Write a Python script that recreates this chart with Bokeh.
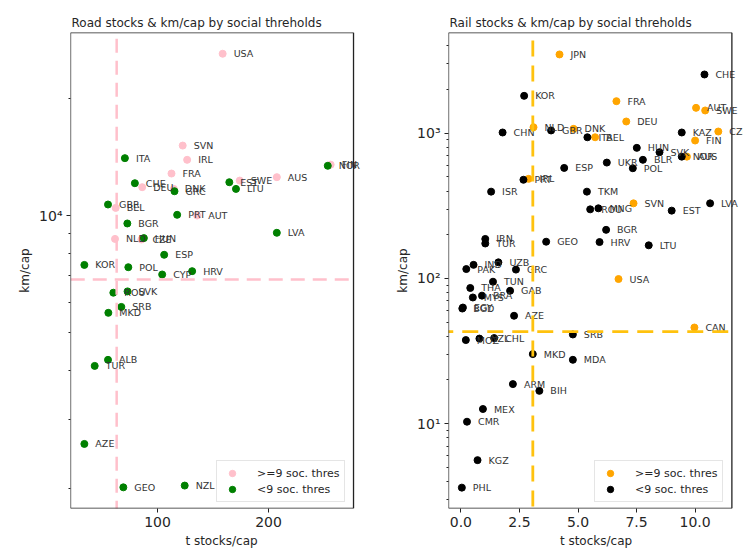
from bokeh.plotting import figure
from bokeh.layouts import row
from bokeh.models import (ColumnDataSource, Label, Range1d, FixedTicker,
                          CustomJSTickFormatter, PrintfTickFormatter, Arrow)
from bokeh.embed import file_html
from bokeh.resources import INLINE

# ---------------- Road data ----------------
road_hi_names = ["USA", "SVN", "IRL", "FRA", "AUS", "SWE", "DEU", "DNK", "BEL", "AUT", "NLD", "CZE", "FIN"]
road_hi_x = [158.7, 122.7, 126.7, 112.6, 207.5, 174.1, 86.2, 114.7, 62.3, 135.7, 61.7, 85.5, 256.0]
road_hi_y = [25980, 15110, 13890, 12810, 12540, 12290, 11820, 11700, 10460, 10000, 8710, 8680, 13500]

road_lo_names = ["ITA", "NOR", "CHE", "EST", "LTU", "GRC", "GBR", "PRT", "BGR", "LVA", "HUN", "ESP",
                 "KOR", "POL", "HRV", "CYP", "ROU", "SVK", "SRB", "MKD", "ALB", "TUR", "AZE", "GEO", "NZL"]
road_lo_x = [70.6, 253.4, 79.6, 164.7, 170.7, 115.3, 55.4, 117.7, 72.8, 207.5, 87.7, 106.0,
             34.1, 73.7, 131.2, 104.2, 60.2, 73.0, 67.4, 55.7, 55.4, 43.4, 34.1, 69.2, 124.5]
road_lo_y = [14030, 13410, 12100, 12170, 11700, 11540, 10670, 10040, 9540, 9030, 8750, 7930,
             7470, 7370, 7200, 7060, 6340, 6390, 5830, 5630, 4266, 4116, 2597, 2010, 2031]

road_x_thr = 63.2
road_y_thr = 6850

# ---------------- Rail data ----------------
rail_hi_names = ["JPN", "FRA", "AUT", "SWE", "DEU", "NLD", "DNK", "CZE", "BEL", "FIN", "AUS", "IRL",
                 "SVN", "USA", "CAN"]
rail_hi_x = [4.21, 6.64, 10.04, 10.43, 7.06, 3.10, 4.81, 10.99, 5.73, 10.0, 9.65, 2.89, 7.37, 6.73, 9.97]
rail_hi_y = [3490, 1663, 1496, 1435, 1205, 1100, 1072, 1028, 938, 891, 690, 485, 329, 99, 45.9]

rail_lo_names = ["CHE", "KOR", "CHN", "GBR", "KAZ", "ITA", "HUN", "SVK", "NOR", "BLR", "UKR", "POL",
                 "ESP", "PRT", "ISR", "TKM", "LVA", "EST", "ROU", "MNG", "BGR", "IRN", "TUR", "GEO",
                 "HRV", "LTU", "PAK", "IND", "UZB", "GRC", "TUN", "THA", "GAB", "MYS", "BRA", "EGY",
                 "BGD", "AZE", "SRB", "MOZ", "NZL", "CHL", "MKD", "MDA", "ARM", "BIH", "MEX", "CMR",
                 "KGZ", "PHL"]
rail_lo_x = [10.40, 2.70, 1.78, 3.85, 9.43, 5.40, 7.51, 8.48, 9.43, 7.77, 6.23, 7.34,
             4.41, 2.67, 1.29, 5.38, 10.64, 9.0, 5.52, 5.87, 6.20, 1.04, 1.04, 3.64,
             5.92, 8.02, 0.23, 0.54, 1.60, 2.35, 1.37, 0.40, 2.10, 0.51, 0.90, 0.085,
             0.06, 2.27, 4.78, 0.21, 0.79, 1.42, 3.07, 4.78, 2.22, 3.35, 0.94, 0.26,
             0.71, 0.04]
rail_lo_y = [2540, 1810, 1012, 1045, 1012, 938, 793, 740, 690, 656, 628, 574,
             577, 478, 396, 396, 329, 293, 299, 304, 216, 187, 174, 179,
             178, 169, 116, 124, 129, 115, 94.9, 85.9, 82.2, 73.9, 76.1, 63,
             62, 55.3, 41.1, 37.6, 38.5, 38.8, 30.1, 27.5, 18.7, 16.8, 12.6, 10.3,
             5.6, 3.62]

rail_x_thr = 3.07
rail_y_thr = 43.0

legend_hi = ">=9 soc. thres"
legend_lo = "<9 soc. thres"

FONT = "DejaVu Sans"
TXT = "#262626"
EDGE = "#222222"

sup_js = """
const s = {'0':'\u2070','1':'\u00b9','2':'\u00b2','3':'\u00b3','4':'\u2074','5':'\u2075','6':'\u2076','7':'\u2077','8':'\u2078','9':'\u2079'};
const e = Math.round(Math.log10(tick));
return '10' + String(e).split('').map(c => s[c]).join('');
"""


def style(p):
    p.grid.visible = False
    p.outline_line_color = None
    p.background_fill_color = "white"
    p.border_fill_color = "white"
    p.title.text_font = FONT
    p.title.text_font_size = "12px"
    p.title.text_font_style = "normal"
    p.title.text_color = TXT
    p.title.align = "left"
    p.title.standoff = 6
    for ax in (p.xaxis[0], p.yaxis[0]):
        ax.axis_line_color = None
        ax.major_tick_line_color = EDGE
        ax.minor_tick_line_color = EDGE
        ax.major_tick_in = 0
        ax.major_tick_out = 4
        ax.minor_tick_in = 0
        ax.minor_tick_out = 2
        ax.major_label_text_font = FONT
        ax.major_label_text_font_size = "14px"
        ax.major_label_text_color = TXT
        ax.axis_label_text_font = FONT
        ax.axis_label_text_font_size = "12px"
        ax.axis_label_text_font_style = "normal"
        ax.axis_label_text_color = TXT
        ax.axis_label_standoff = 4
        ax.major_label_standoff = 4
    p.xaxis[0].minor_tick_out = 0


def draw_box(p, x0, x1, y0, y1):
    # visible axes box (the drawing frame itself is wider so labels can overflow it)
    for xs, xe, ys, ye in [(x0, x1, y0, y0), (x0, x1, y1, y1), (x0, x0, y0, y1), (x1, x1, y0, y1)]:
        p.add_layout(Arrow(end=None, x_start=xs, x_end=xe, y_start=ys, y_end=ye,
                           line_color=EDGE, line_width=1.3))


def add_points(p, names, xs, ys, color, label):
    src = ColumnDataSource(dict(x=xs, y=ys, name=names))
    p.scatter("x", "y", source=src, size=7, color=color, legend_label=label)
    for n, xv, yv in zip(names, xs, ys):
        p.add_layout(Label(x=xv, y=yv, text=n, x_offset=11, text_baseline="middle",
                           text_font=FONT, text_font_size="9.5px", text_color="#333333"))


def style_legend(p, loc):
    lg = p.legend[0]
    lg.location = loc
    lg.padding = 4
    lg.spacing = 0
    lg.label_text_font = FONT
    lg.label_text_font_size = "11px"
    lg.label_text_color = TXT
    lg.label_height = 16
    lg.glyph_height = 16
    lg.glyph_width = 22
    lg.label_standoff = 14
    lg.border_line_color = "#cccccc"
    lg.background_fill_alpha = 0.85


# ---------------- Road figure ----------------
ROAD_X = (21.6, 276.6)
ROAD_Y = (1774, 29450)
p1 = figure(width=372, height=557, y_axis_type="log", output_backend="svg", toolbar_location=None,
            title="Road stocks & km/cap by social threholds",
            x_range=Range1d(ROAD_X[0], 293.7), y_range=Range1d(*ROAD_Y),
            min_border_left=70, min_border_right=0, min_border_top=32, min_border_bottom=49)
p1.title.offset = 1
p1.xaxis.axis_label = "t stocks/cap"
p1.yaxis.axis_label = "km/cap"
p1.xaxis.ticker = FixedTicker(ticks=[100, 200])
p1.yaxis.ticker = FixedTicker(ticks=[10000],
                              minor_ticks=[2000, 3000, 4000, 5000, 6000, 7000, 8000, 9000, 20000])
p1.yaxis.formatter = CustomJSTickFormatter(code=sup_js)
style(p1)

pink = "#FFC0CB"
add_points(p1, road_hi_names, road_hi_x, road_hi_y, pink, legend_hi)
add_points(p1, road_lo_names, road_lo_x, road_lo_y, "green", legend_lo)
p1.add_layout(Arrow(end=None, x_start=road_x_thr, x_end=road_x_thr, y_start=28400, y_end=1330,
                    line_color=pink, line_width=2.5, line_dash="14 8"))
p1.add_layout(Arrow(end=None, x_start=2, x_end=273.5, y_start=road_y_thr, y_end=road_y_thr,
                    line_color=pink, line_width=2.5, line_dash="14 8"))
draw_box(p1, ROAD_X[0], ROAD_X[1], ROAD_Y[0], ROAD_Y[1])
style_legend(p1, (146, 6))

# ---------------- Rail figure ----------------
RAIL_X = (-0.53, 11.57)
RAIL_Y = (2.6, 4943)
p2 = figure(width=371, height=557, y_axis_type="log", output_backend="svg", toolbar_location=None,
            title="Rail stocks & km/cap by social threholds",
            x_range=Range1d(RAIL_X[0], 12.066), y_range=Range1d(*RAIL_Y),
            min_border_left=76, min_border_right=0, min_border_top=32, min_border_bottom=49)
p2.title.offset = 1
p2.xaxis.axis_label = "t stocks/cap"
p2.yaxis.axis_label = "km/cap"
p2.xaxis.ticker = FixedTicker(ticks=[0, 2.5, 5, 7.5, 10])
p2.xaxis.formatter = PrintfTickFormatter(format="%.1f")
minor = [3, 4, 5, 6, 7, 8, 9, 20, 30, 40, 50, 60, 70, 80, 90,
         200, 300, 400, 500, 600, 700, 800, 900, 2000, 3000, 4000]
p2.yaxis.ticker = FixedTicker(ticks=[10, 100, 1000], minor_ticks=minor)
p2.yaxis.formatter = CustomJSTickFormatter(code=sup_js)
style(p2)

amber = "#FFC20E"
add_points(p2, rail_hi_names, rail_hi_x, rail_hi_y, "#FFA500", legend_hi)
add_points(p2, rail_lo_names, rail_lo_x, rail_lo_y, "black", legend_lo)
p2.add_layout(Arrow(end=None, x_start=rail_x_thr, x_end=rail_x_thr, y_start=4355, y_end=1.19,
                    line_color=amber, line_width=2.8, line_dash="16 9"))
p2.add_layout(Arrow(end=None, x_start=-1.01, x_end=11.79, y_start=rail_y_thr, y_end=rail_y_thr,
                    line_color=amber, line_width=2.8, line_dash="16 9"))
draw_box(p2, RAIL_X[0], RAIL_X[1], RAIL_Y[0], RAIL_Y[1])
style_legend(p2, (146, 6))

layout = row(p1, p2)
open("out.html", "w").write(file_html(layout, INLINE))
